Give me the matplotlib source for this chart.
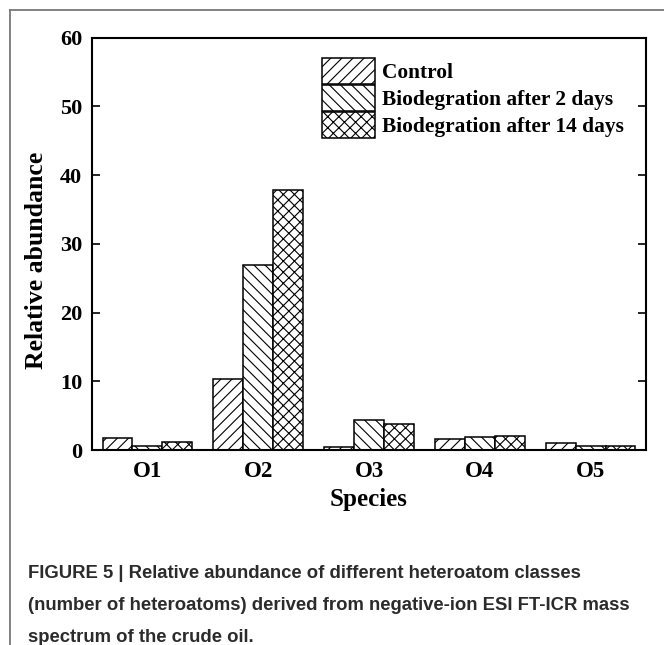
import matplotlib
matplotlib.use("Agg")
import matplotlib.pyplot as plt
from matplotlib.lines import Line2D
import numpy as np

species = ['O1', 'O2', 'O3', 'O4', 'O5']
series_names = ['Control', 'Biodegration after 2 days', 'Biodegration after 14 days']
control = [1.7, 10.3, 0.5, 1.55, 0.95]
after_2d = [0.6, 26.9, 4.35, 1.9, 0.6]
after_14d = [1.15, 37.9, 3.85, 2.0, 0.6]
hatches = ['///', '\\\\\\', 'xxx']

plt.rcParams['hatch.linewidth'] = 0.8

fig = plt.figure(figsize=(6.64, 6.45), dpi=100)
ax = fig.add_axes([0.1386, 0.3023, 0.9729 - 0.1386, 0.9415 - 0.3023])

x = np.arange(1, len(species) + 1)
w = 0.27
for i, (vals, name) in enumerate(zip([control, after_2d, after_14d], series_names)):
    ax.bar(x + (i - 1) * w, vals, w, color='white', edgecolor='black',
           hatch=hatches[i], linewidth=1.1, label=name)

serif = 'Liberation Serif'
ax.set_xlim(0.5, 5.5)
ax.set_ylim(0, 60)
ax.set_yticks([0, 10, 20, 30, 40, 50, 60])
ax.set_xticks(x)
ax.set_xticklabels(species, fontfamily=serif, fontweight='bold', fontsize=16.5)
for lab in ax.get_yticklabels():
    lab.set_fontfamily(serif)
    lab.set_fontweight('bold')
    lab.set_fontsize(16)
ax.tick_params(axis='y', direction='in', length=6, width=1.2, right=True, pad=7)
ax.tick_params(axis='x', length=0, pad=8)
for s in ax.spines.values():
    s.set_linewidth(1.5)

ax.set_xlabel('Species', fontfamily=serif, fontweight='bold', fontsize=18, labelpad=4)
ax.set_ylabel('Relative abundance', fontfamily=serif, fontweight='bold', fontsize=18.5)
ax.yaxis.set_label_coords(-0.08, 0.46)

ax.legend(loc='upper left', bbox_to_anchor=(0.415, 0.951), frameon=False,
          prop={'family': serif, 'weight': 'bold', 'size': 15.4},
          handlelength=2.48, handleheight=1.5, labelspacing=0.04,
          handletextpad=0.35, borderpad=0, borderaxespad=0)

# page frame (top and left edges)
fig.add_artist(Line2D([10 / 664, 1], [1 - 10 / 645, 1 - 10 / 645], color='#777777', lw=1.3))
fig.add_artist(Line2D([10 / 664, 10 / 664], [0, 1 - 10 / 645], color='#777777', lw=1.3))

caption = ("FIGURE 5 | Relative abundance of different heteroatom classes\n"
           "(number of heteroatoms) derived from negative-ion ESI FT-ICR mass\n"
           "spectrum of the crude oil.")
fig.text(28 / 664, 1 - 565 / 645, caption, ha='left', va='top',
         fontfamily='Liberation Sans', fontweight='bold',
         fontsize=13.3, color='#2b2b2b', linespacing=2.15)

fig.savefig('out.png', dpi=100)
